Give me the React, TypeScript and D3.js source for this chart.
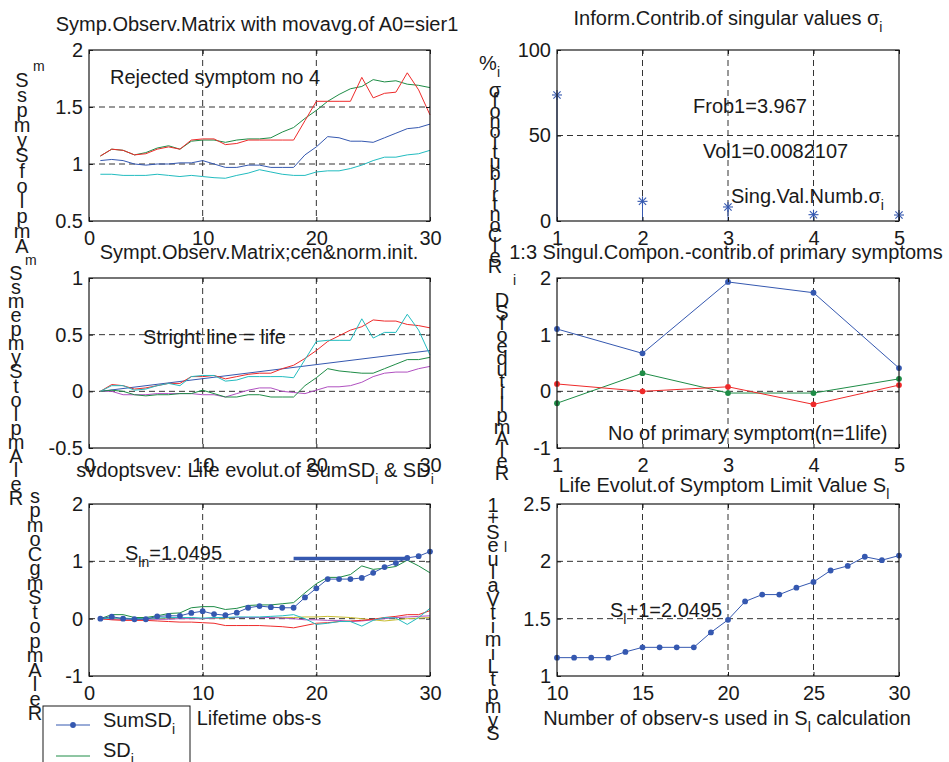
import React, { useEffect, useRef } from 'react';
import * as d3 from 'd3';

// ---- data ----
const obs = [1, 2, 3, 4, 5, 6, 7, 8, 9, 10, 11, 12, 13, 14, 15, 16, 17, 18, 19, 20, 21, 22, 23, 24, 25, 26, 27, 28, 29, 30];

// panel 1: symptom observation matrix with moving average
const p1Blue = [1.03, 1.04, 1.03, 1.0, 0.99, 1.0, 1.0, 1.01, 1.01, 1.03, 1.0, 0.97, 0.97, 0.99, 0.99, 0.97, 0.97, 0.97, 1.08, 1.15, 1.24, 1.23, 1.2, 1.2, 1.19, 1.23, 1.27, 1.31, 1.32, 1.35];
const p1Green = [1.07, 1.13, 1.12, 1.08, 1.1, 1.14, 1.16, 1.13, 1.2, 1.21, 1.21, 1.19, 1.21, 1.22, 1.22, 1.23, 1.28, 1.32, 1.4, 1.47, 1.55, 1.61, 1.66, 1.68, 1.74, 1.72, 1.73, 1.7, 1.69, 1.67];
const p1Red = [1.07, 1.13, 1.12, 1.08, 1.09, 1.13, 1.15, 1.13, 1.21, 1.22, 1.22, 1.17, 1.18, 1.21, 1.21, 1.21, 1.21, 1.21, 1.38, 1.55, 1.55, 1.55, 1.55, 1.76, 1.58, 1.62, 1.63, 1.8, 1.65, 1.43];
const p1Cyan = [0.91, 0.91, 0.9, 0.9, 0.9, 0.91, 0.9, 0.89, 0.9, 0.89, 0.88, 0.875, 0.9, 0.92, 0.95, 0.93, 0.91, 0.9, 0.9, 0.93, 0.94, 0.94, 0.96, 0.99, 1.03, 1.06, 1.06, 1.08, 1.09, 1.12];

// panel 2: information contribution of singular values
const sigNum = [1, 2, 3, 4, 5];
const sigPct = [73.7, 11.5, 8.2, 3.7, 3.5];

// panel 3: centered & normalised matrix
const lifeX = [1, 30];
const lifeY = [0, 0.36];
const p3Red = [0, 0.06, 0.05, 0.02, 0.03, 0.05, 0.07, 0.07, 0.13, 0.13, 0.14, 0.11, 0.13, 0.15, 0.16, 0.16, 0.2, 0.23, 0.29, 0.36, 0.44, 0.49, 0.54, 0.57, 0.63, 0.62, 0.62, 0.59, 0.58, 0.56];
const p3Cyan = [0, 0.05, 0.05, 0.01, 0.02, 0.05, 0.07, 0.05, 0.13, 0.14, 0.14, 0.09, 0.1, 0.13, 0.13, 0.13, 0.13, 0.12, 0.28, 0.44, 0.45, 0.45, 0.45, 0.64, 0.47, 0.52, 0.52, 0.68, 0.54, 0.32];
const p3Green = [0, 0.01, 0.0, -0.03, -0.04, -0.03, -0.03, -0.02, -0.02, 0.01, -0.02, -0.05, -0.05, -0.03, -0.03, -0.05, -0.05, -0.05, 0.05, 0.12, 0.2, 0.18, 0.17, 0.16, 0.16, 0.2, 0.24, 0.28, 0.28, 0.3];
const p3Magenta = [0, 0, -0.03, -0.03, -0.03, -0.02, -0.02, -0.02, -0.02, -0.03, -0.03, -0.05, -0.02, 0.01, 0.03, 0.03, 0.0, -0.01, -0.02, 0.01, 0.04, 0.04, 0.05, 0.08, 0.13, 0.16, 0.17, 0.17, 0.2, 0.22];

// panel 4: singular components vs primary symptoms
const compNum = [1, 2, 3, 4, 5];
const p4Blue = [1.1, 0.67, 1.93, 1.74, 0.41];
const p4Green = [-0.21, 0.32, -0.03, -0.03, 0.22];
const p4Red = [0.13, 0.0, 0.08, -0.23, 0.11];

// panel 5: life evolution of SumSD and SD
const sumSD = [0, 0.035, 0, -0.01, -0.01, 0.04, 0.05, 0.05, 0.1, 0.13, 0.08, 0.06, 0.105, 0.19, 0.22, 0.2, 0.19, 0.19, 0.37, 0.53, 0.69, 0.69, 0.69, 0.71, 0.8, 0.9, 0.97, 1.06, 1.09, 1.17];
const sdGreen = [0, 0.07, 0.07, 0.02, 0.02, 0.05, 0.09, 0.1, 0.19, 0.21, 0.21, 0.16, 0.18, 0.23, 0.24, 0.24, 0.26, 0.28, 0.45, 0.61, 0.72, 0.72, 0.77, 0.92, 0.86, 0.88, 0.91, 1.02, 0.92, 0.8];
const sdRed = [0, -0.02, -0.03, -0.03, -0.03, -0.04, -0.05, -0.06, -0.06, -0.07, -0.08, -0.12, -0.12, -0.12, -0.12, -0.13, -0.14, -0.16, -0.12, -0.08, -0.07, -0.05, -0.04, -0.03, -0.01, 0.02, 0.04, 0.07, 0.07, 0.14];
const sdCyan = [0, 0.01, 0.01, 0.0, 0.01, 0.01, 0.02, 0.02, 0.02, 0.01, 0.02, 0.02, 0.03, 0.03, 0.03, 0.04, 0.05, 0.07, 0.0, -0.1, -0.08, -0.05, -0.05, -0.13, -0.03, 0.02, 0.01, -0.1, 0.02, 0.18];
const sdMagenta = [0, -0.01, -0.01, -0.01, -0.01, -0.01, -0.01, 0.0, 0.0, 0.0, 0.01, 0.02, 0.02, 0.02, 0.02, 0.02, 0.01, 0.0, -0.02, -0.02, -0.03, -0.03, -0.05, -0.04, -0.02, 0.0, 0.02, 0.03, 0.04, 0.05];
const sdYellow = [0, 0.0, 0.0, 0.0, 0.0, 0.0, 0.01, 0.01, 0.01, 0.0, 0.01, 0.01, 0.02, 0.02, 0.02, 0.02, 0.02, 0.02, 0.03, 0.03, 0.04, 0.03, 0.02, 0.0, -0.02, -0.04, -0.02, 0.0, 0.01, 0.02];
const slnValue = 1.0495;
const slnRange = [18, 28];

// panel 6: symptom limit value
const nObs = [10, 11, 12, 13, 14, 15, 16, 17, 18, 19, 20, 21, 22, 23, 24, 25, 26, 27, 28, 29, 30];
const slPlus1 = [1.16, 1.16, 1.16, 1.16, 1.21, 1.25, 1.25, 1.25, 1.25, 1.38, 1.49, 1.65, 1.71, 1.71, 1.77, 1.82, 1.92, 1.96, 2.04, 2.01, 2.05];

const FONT = '"Liberation Sans", Arial, sans-serif';
const FS = 20; // main font size
const FS_SMALL = 14; // sub/superscripts
const INK = '#1a1a1a';
const C = {
  blue: '#3558b0',
  green: '#1e8c46',
  red: '#ee2a2a',
  cyan: '#22bcc0',
  magenta: '#b050c0',
  yellow: '#c8bc30',
};

const App = () => {
  const ref = useRef(null);

  useEffect(() => {
    const svg = d3.select(ref.current);
    svg.selectAll('*').remove();

    // axes box with MATLAB-like dashed grid and inward ticks
    function panel(box, xDom, yDom, xTicks, yTicks) {
      const x = d3.scaleLinear().domain(xDom).range([box.x0, box.x1]);
      const y = d3.scaleLinear().domain(yDom).range([box.y1, box.y0]);
      const g = svg.append('g');

      g.append('rect')
        .attr('x', box.x0).attr('y', box.y0)
        .attr('width', box.x1 - box.x0).attr('height', box.y1 - box.y0)
        .attr('fill', '#fff');

      const grid = g.append('g').attr('stroke', '#333').attr('stroke-dasharray', '6,4').attr('stroke-width', 1);
      grid.selectAll('.gx').data(xTicks.filter(t => t !== xDom[0] && t !== xDom[1])).join('line')
        .attr('x1', d => x(d)).attr('x2', d => x(d)).attr('y1', box.y0).attr('y2', box.y1);
      grid.selectAll('.gy').data(yTicks.filter(t => t !== yDom[0] && t !== yDom[1])).join('line')
        .attr('y1', d => y(d)).attr('y2', d => y(d)).attr('x1', box.x0).attr('x2', box.x1);

      const plot = g.append('g');

      const fmt = d => String(d);
      const style = sel => {
        sel.select('.domain').remove();
        sel.attr('font-size', FS).attr('font-family', FONT);
        sel.selectAll('text').attr('fill', INK);
        sel.selectAll('line').attr('stroke', INK);
      };
      g.append('g').attr('transform', `translate(0,${box.y1})`)
        .call(d3.axisBottom(x).tickValues(xTicks).tickSizeInner(-4).tickSizeOuter(0).tickPadding(10).tickFormat(fmt))
        .call(style);
      g.append('g').attr('transform', `translate(${box.x0},0)`)
        .call(d3.axisLeft(y).tickValues(yTicks).tickSizeInner(-4).tickSizeOuter(0).tickPadding(6).tickFormat(fmt))
        .call(style);
      g.append('g').attr('transform', `translate(0,${box.y0})`)
        .call(d3.axisTop(x).tickValues(xTicks).tickSizeInner(-4).tickSizeOuter(0).tickFormat(() => ''))
        .call(style);
      g.append('g').attr('transform', `translate(${box.x1},0)`)
        .call(d3.axisRight(y).tickValues(yTicks).tickSizeInner(-4).tickSizeOuter(0).tickFormat(() => ''))
        .call(style);

      g.append('rect')
        .attr('x', box.x0).attr('y', box.y0)
        .attr('width', box.x1 - box.x0).attr('height', box.y1 - box.y0)
        .attr('fill', 'none').attr('stroke', INK).attr('stroke-width', 1.2);

      return { g, plot, x, y };
    }

    function series(p, xs, ys, color, width = 1) {
      p.plot.append('path')
        .datum(ys)
        .attr('fill', 'none')
        .attr('stroke', color)
        .attr('stroke-width', width)
        .attr('d', d3.line().x((d, i) => p.x(xs[i])).y(d => p.y(d)));
    }

    function dots(p, xs, ys, color) {
      p.plot.append('g').selectAll('circle').data(ys).join('circle')
        .attr('cx', (d, i) => p.x(xs[i])).attr('cy', d => p.y(d))
        .attr('r', 2.9).attr('fill', color);
    }

    // text with optional sub/superscript parts
    function text(x, y, parts, anchor = 'start') {
      const t = svg.append('text')
        .attr('x', x).attr('y', y)
        .attr('font-family', FONT).attr('font-size', FS)
        .attr('fill', INK).attr('text-anchor', anchor);
      let shift = 0;
      parts.forEach(part => {
        const [s, kind] = typeof part === 'string' ? [part, 'n'] : part;
        const target = kind === 'sub' ? 7 : 0;
        t.append('tspan')
          .attr('dy', target - shift)
          .attr('font-size', kind === 'n' ? FS : FS_SMALL)
          .text(s);
        shift = target;
      });
      return t;
    }

    function small(x, y, s) {
      svg.append('text')
        .attr('x', x).attr('y', y)
        .attr('font-family', FONT).attr('font-size', FS_SMALL).attr('fill', INK)
        .text(s);
    }

    // MATLAB's stacked vertical y-labels
    function stack(chars, x, yTop, yBottom) {
      const step = (yBottom - yTop) / (chars.length - 1);
      svg.append('g').selectAll('text').data(chars).join('text')
        .attr('x', x).attr('y', (d, i) => yTop + i * step)
        .attr('text-anchor', 'middle')
        .attr('font-family', FONT).attr('font-size', FS).attr('fill', INK)
        .text(d => d);
    }

    // ---- panel 1 ----
    const p1 = panel({ x0: 89, x1: 430, y0: 50, y1: 221 }, [0, 30], [0.5, 2], [0, 10, 20, 30], [0.5, 1, 1.5, 2]);
    series(p1, obs, p1Cyan, C.cyan);
    series(p1, obs, p1Blue, C.blue);
    series(p1, obs, p1Green, C.green);
    series(p1, obs, p1Red, C.red);
    text(257, 31, ['Symp.Observ.Matrix with movavg.of A0=sier1'], 'middle');
    text(110, 84, ['Rejected symptom no 4']);
    stack(['S', 's', 'p', 'm', 'y', 'S', 'f', 'o', 'l', 'p', 'm', 'A'], 22, 87, 253);
    small(33, 71, 'm');

    // ---- panel 2 ----
    const p2 = panel({ x0: 557, x1: 899, y0: 50, y1: 221 }, [1, 5], [0, 100], [1, 2, 3, 4, 5], [0, 50, 100]);
    p2.plot.append('g').selectAll('line').data(sigPct).join('line')
      .attr('x1', (d, i) => p2.x(sigNum[i])).attr('x2', (d, i) => p2.x(sigNum[i]))
      .attr('y1', p2.y(0)).attr('y2', d => p2.y(d))
      .attr('stroke', C.blue).attr('stroke-width', 1);
    const star = p2.plot.append('g').selectAll('g').data(sigPct).join('g')
      .attr('transform', (d, i) => `translate(${p2.x(sigNum[i])},${p2.y(d)})`)
      .attr('stroke', C.blue).attr('stroke-width', 1.1);
    [[-5, 0, 5, 0], [0, -5, 0, 5], [-3.6, -3.6, 3.6, 3.6], [-3.6, 3.6, 3.6, -3.6]].forEach(([a, b, c2, d2]) => {
      star.append('line').attr('x1', a).attr('y1', b).attr('x2', c2).attr('y2', d2);
    });
    text(728, 25, ['Inform.Contrib.of singular values σ', ['i', 'sub']], 'middle');
    text(693, 113, ['Frob1=3.967']);
    text(703, 158, ['Vol1=0.0082107']);
    text(731, 203, ['Sing.Val.Numb.σ', ['i', 'sub']]);
    stack(['σ', 'f', 'o', 'n', 'o', 'i', 't', 'u', 'b', 'i', 'r', 't', 'n', 'o', 'C', 'l', 'e', 'R'], 495, 97, 273);
    text(479, 70, ['%']);
    small(497, 77, 'i');

    // ---- panel 3 ----
    const p3 = panel({ x0: 89, x1: 430, y0: 278, y1: 448 }, [0, 30], [-0.5, 1], [0, 10, 20, 30], [-0.5, 0, 0.5, 1]);
    series(p3, lifeX, lifeY, C.blue);
    series(p3, obs, p3Magenta, C.magenta);
    series(p3, obs, p3Green, C.green);
    series(p3, obs, p3Red, C.red);
    series(p3, obs, p3Cyan, C.cyan);
    text(259, 259, ['Sympt.Observ.Matrix;cen&norm.init.'], 'middle');
    text(143, 344, ['Stright line = life']);
    stack(['S', 's', 'm', 'e', 'p', 'm', 'y', 'S', 't', 'o', 'l', 'p', 'm', 'A', 'l', 'e', 'R'], 16, 280, 505);
    small(25, 265, 'm');

    // ---- panel 4 ----
    const p4 = panel({ x0: 557, x1: 899, y0: 278, y1: 448 }, [1, 5], [-1, 2], [1, 2, 3, 4, 5], [-1, 0, 1, 2]);
    series(p4, compNum, p4Blue, C.blue);
    series(p4, compNum, p4Green, C.green);
    series(p4, compNum, p4Red, C.red);
    dots(p4, compNum, p4Blue, C.blue);
    dots(p4, compNum, p4Green, C.green);
    dots(p4, compNum, p4Red, C.red);
    text(726, 259, ['1:3 Singul.Compon.-contrib.of primary symptoms'], 'middle');
    text(608, 440, ['No of primary symptom(n=1life)']);
    stack(['D', 'S', 'f', 'o', 'e', 'd', 'u', 't', 'i', 'l', 'p', 'm', 'A', 'l', 'e', 'R'], 502, 307, 480);
    small(513, 285, 'i');

    // ---- panel 5 ----
    const p5 = panel({ x0: 89, x1: 430, y0: 504, y1: 676 }, [0, 30], [-1, 2], [0, 10, 20, 30], [-1, 0, 1, 2]);
    series(p5, obs, sdYellow, C.yellow);
    series(p5, obs, sdMagenta, C.magenta);
    series(p5, obs, sdRed, C.red);
    series(p5, obs, sdCyan, C.cyan);
    series(p5, obs, sdGreen, C.green);
    series(p5, slnRange, [slnValue, slnValue], C.blue, 3.5);
    series(p5, obs, sumSD, C.blue);
    dots(p5, obs, sumSD, C.blue);
    text(255, 477, ['svdoptsvev: Life evolut.of SumSD', ['i', 'sub'], ' & SD', ['i', 'sub']], 'middle');
    text(125, 560, ['S', ['ln', 'sub'], '=1.0495']);
    text(259, 725, ['Lifetime obs-s'], 'middle');
    stack(['s', 'p', 'm', 'o', 'C', 'g', 'm', 'S', 't', 'o', 'p', 'm', 'A', 'l', 'e', 'R'], 35, 503, 720);

    // legend
    const lg = svg.append('g');
    lg.append('rect').attr('x', 43).attr('y', 706).attr('width', 147).attr('height', 70)
      .attr('fill', '#fff').attr('stroke', INK).attr('stroke-width', 1);
    lg.append('line').attr('x1', 56).attr('x2', 90).attr('y1', 725).attr('y2', 725).attr('stroke', C.blue);
    lg.append('circle').attr('cx', 73).attr('cy', 725).attr('r', 2.9).attr('fill', C.blue);
    lg.append('line').attr('x1', 56).attr('x2', 90).attr('y1', 756).attr('y2', 756).attr('stroke', C.green);
    text(103, 727, ['SumSD', ['i', 'sub']]);
    text(103, 757, ['SD', ['i', 'sub']]);

    // ---- panel 6 ----
    const p6 = panel({ x0: 557, x1: 899, y0: 504, y1: 676 }, [10, 30], [1, 2.5], [10, 15, 20, 25, 30], [1, 1.5, 2, 2.5]);
    series(p6, nObs, slPlus1, C.blue);
    dots(p6, nObs, slPlus1, C.blue);
    text(724, 492, ['Life Evolut.of Symptom Limit Value S', ['l', 'sub']], 'middle');
    text(610, 617, ['S', ['l', 'sub'], '+1=2.0495']);
    text(727, 725, ['Number of observ-s used in S', ['l', 'sub'], ' calculation'], 'middle');
    stack(['1', '+', 'S', 'e', 'u', 'l', 'a', 'V', 't', 'i', 'm', 'i', 'L', 't', 'p', 'm', 'y', 'S'], 493, 512, 740);
    small(504, 552, 'l');
  }, []);

  return (
    <svg
      ref={ref}
      width={949}
      height={762}
      style={{ position: 'absolute', left: 0, top: 0, background: '#fff' }}
    />
  );
};

export default App;
